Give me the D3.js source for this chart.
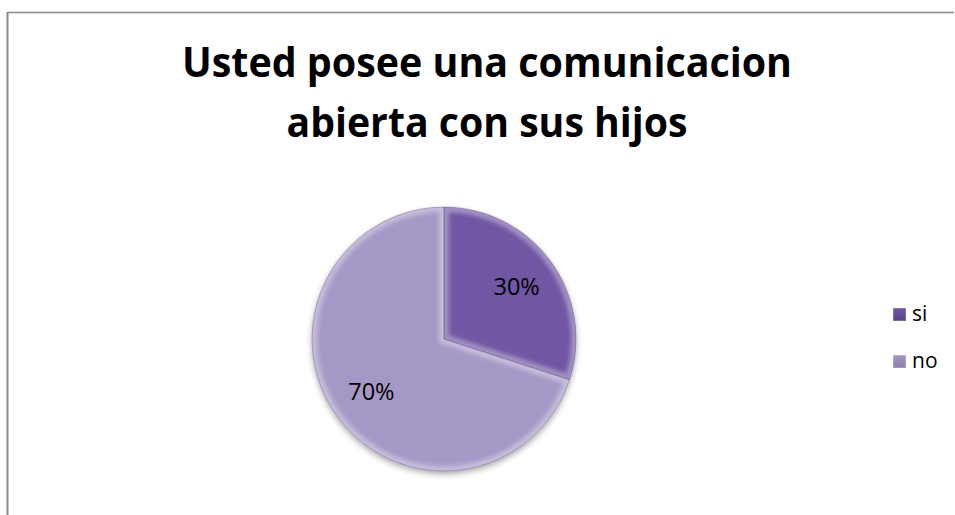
<!DOCTYPE html>
<html>
<head>
<meta charset="utf-8">
<script src="https://cdn.jsdelivr.net/npm/d3@7"></script>
<style>
  html, body { margin: 0; padding: 0; background: #fff; }
  svg { display: block; }
</style>
</head>
<body>
<svg id="chart" width="955" height="515"></svg>
<script>
const titleLines = ["Usted posee una comunicacion", "abierta con sus hijos"];
const categories = ["si", "no"];
const values = [30, 70];
const sliceColors = ["#654b92", "#9989b7"];
const sliceTops = ["#7057a3", "#a698c6"];
const sliceBottoms = ["#5c4388", "#8c7cab"];

const svg = d3.select("#chart");
const W = 955, H = 515;
const cx = 444, cy = 339, R = 132;

// frame
svg.append("line").attr("x1", 7).attr("y1", 12.5).attr("x2", 954).attr("y2", 12.5)
  .attr("stroke", "#8a8a8a").attr("stroke-width", 1.5);
svg.append("line").attr("x1", 7.5).attr("y1", 12).attr("x2", 7.5).attr("y2", H)
  .attr("stroke", "#8a8a8a").attr("stroke-width", 2);

const defs = svg.append("defs");

// shadow filter
const sh = defs.append("filter").attr("id", "shadow").attr("x", "-20%").attr("y", "-20%").attr("width", "140%").attr("height", "140%");
sh.append("feGaussianBlur").attr("in", "SourceAlpha").attr("stdDeviation", 3).attr("result", "b");
sh.append("feOffset").attr("in", "b").attr("dx", 0).attr("dy", 3).attr("result", "o");
sh.append("feComponentTransfer").attr("in", "o").attr("result", "o2")
  .append("feFuncA").attr("type", "linear").attr("slope", 0.35);
const mg = sh.append("feMerge");
mg.append("feMergeNode").attr("in", "o2");
mg.append("feMergeNode").attr("in", "SourceGraphic");

const blur = defs.append("filter").attr("id", "blur").attr("x", "-20%").attr("y", "-20%").attr("width", "140%").attr("height", "140%");
blur.append("feGaussianBlur").attr("stdDeviation", 2);

// fill gradients
categories.forEach((c, i) => {
  const g = defs.append("linearGradient").attr("id", "fill" + i)
    .attr("gradientUnits", "userSpaceOnUse")
    .attr("x1", 0).attr("y1", cy - R).attr("x2", 0).attr("y2", cy + R);
  g.append("stop").attr("offset", "0%").attr("stop-color", sliceTops[i]);
  g.append("stop").attr("offset", "50%").attr("stop-color", sliceColors[i]);
  g.append("stop").attr("offset", "100%").attr("stop-color", sliceBottoms[i]);
});
// bevel gradient
const bg = defs.append("linearGradient").attr("id", "bevel")
  .attr("gradientUnits", "userSpaceOnUse")
  .attr("x1", cx - R * 0.5).attr("y1", cy - R).attr("x2", cx + R * 0.5).attr("y2", cy + R);
bg.append("stop").attr("offset", "0%").attr("stop-color", "#ffffff").attr("stop-opacity", 0.35);
bg.append("stop").attr("offset", "45%").attr("stop-color", "#ffffff").attr("stop-opacity", 0.1);
bg.append("stop").attr("offset", "70%").attr("stop-color", "#000000").attr("stop-opacity", 0.05);
bg.append("stop").attr("offset", "100%").attr("stop-color", "#1a0f33").attr("stop-opacity", 0.45);

// legend marker gradients
categories.forEach((c, i) => {
  const g = defs.append("linearGradient").attr("id", "leg" + i)
    .attr("x1", 0).attr("y1", 0).attr("x2", 0).attr("y2", 1);
  g.append("stop").attr("offset", "0%").attr("stop-color", sliceTops[i]);
  g.append("stop").attr("offset", "100%").attr("stop-color", sliceBottoms[i]);
});

const pie = d3.pie().sort(null).value(d => d)(values);
const arc = d3.arc().innerRadius(0).outerRadius(R);

const pg = svg.append("g").attr("transform", `translate(${cx},${cy})`);
const slices = pg.append("g").attr("filter", "url(#shadow)");

pie.forEach((p, i) => {
  const d = arc(p);
  defs.append("clipPath").attr("id", "clip" + i)
    .attr("clipPathUnits", "userSpaceOnUse")
    .append("path").attr("d", d).attr("transform", `translate(${cx},${cy})`);
  slices.append("path").attr("d", d).attr("fill", `url(#fill${i})`);
});

// bevel overlays drawn in absolute coords
const bev = svg.append("g");
pie.forEach((p, i) => {
  const d = arc(p);
  bev.append("g").attr("clip-path", `url(#clip${i})`)
    .append("path").attr("d", d).attr("transform", `translate(${cx},${cy})`)
    .attr("fill", "none").attr("stroke", "url(#bevel)").attr("stroke-width", 10)
    .attr("stroke-linejoin", "round")
    .attr("filter", "url(#blur)");
  bev.append("path").attr("d", d).attr("transform", `translate(${cx},${cy})`)
    .attr("fill", "none").attr("stroke", "#3d2c5c").attr("stroke-opacity", 0.35).attr("stroke-width", 0.8);
});

// percentage labels
const total = d3.sum(values);
const labelArc = d3.arc().innerRadius(R * 0.68).outerRadius(R * 0.68);
pg.selectAll("text.pct").data(pie).enter().append("text")
  .attr("class", "pct")
  .attr("transform", d => `translate(${labelArc.centroid(d)})`)
  .attr("text-anchor", "middle")
  .attr("dy", "0.36em")
  .attr("font-family", "'Open Sans', sans-serif")
  .attr("font-size", 23.5)
  .attr("fill", "#000")
  .text(d => Math.round(d.value / total * 100) + "%");

// title
const title = svg.append("g");
const baselines = [77, 137];
const targetWidths = [610, 401];
titleLines.forEach((t, i) => {
  const tx = title.append("text")
    .attr("x", 487).attr("y", baselines[i])
    .attr("text-anchor", "middle")
    .attr("font-family", "'Open Sans', sans-serif")
    .attr("font-weight", "bold")
    .attr("font-size", 41)
    .attr("fill", "#000")
    .text(t);
  const w = tx.node().getComputedTextLength();
  if (Math.abs(w - targetWidths[i]) > 4) {
    tx.attr("textLength", targetWidths[i]).attr("lengthAdjust", "spacingAndGlyphs");
  }
});

// legend
const legend = svg.append("g");
const legendY = [308, 355];
categories.forEach((c, i) => {
  legend.append("rect").attr("x", 893).attr("y", legendY[i]).attr("width", 13).attr("height", 13)
    .attr("fill", `url(#leg${i})`).attr("stroke", "#ffffff").attr("stroke-opacity", 0.4).attr("stroke-width", 1);
  legend.append("text").attr("x", 912).attr("y", legendY[i] + 13)
    .attr("font-family", "'Open Sans', sans-serif")
    .attr("font-size", 21)
    .attr("fill", "#000")
    .text(c);
});
</script>
</body>
</html>
